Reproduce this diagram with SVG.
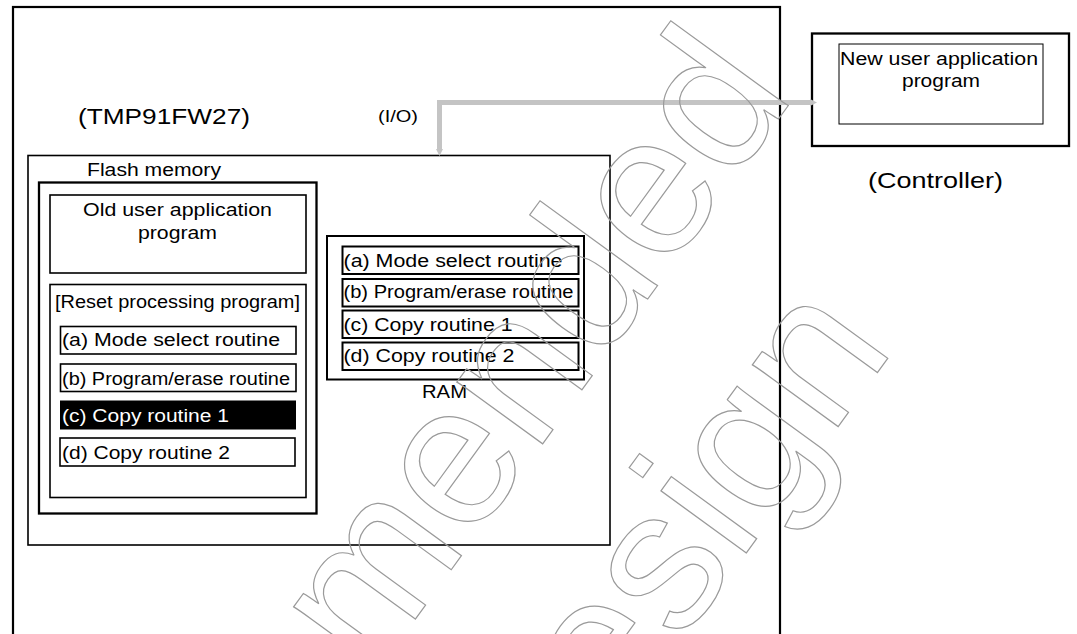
<svg xmlns="http://www.w3.org/2000/svg" width="1077" height="634" viewBox="0 0 1077 634">
<style>
text{font-family:"Liberation Sans",Arial,sans-serif;fill:#000}
.t17{font-size:17.5px}
.t21{font-size:21.5px}
.box{fill:none;stroke:#000}
.wm{font-size:200px;fill:none;stroke:#9a9a9a;stroke-width:1.2}
.conn{fill:none;stroke:#c4c4c4;stroke-width:5}
</style>
<defs>
<marker id="ah" markerUnits="userSpaceOnUse" markerWidth="8" markerHeight="8" refX="0" refY="4" orient="auto-start-reverse">
<path d="M0,0.5 L7,4 L0,7.5 Z" fill="#c4c4c4"/>
</marker>
</defs>
<rect width="1077" height="634" fill="#fff"/>

<g id="mcu">
<rect class="box" x="13" y="7" width="767" height="640" stroke-width="2.2"/>
<text class="t21" x="78" y="124" textLength="172" lengthAdjust="spacingAndGlyphs">(TMP91FW27)</text>
</g>

<g id="chip">
<rect class="box" x="28" y="155.5" width="582" height="389.5" stroke-width="1.6"/>
</g>

<g id="flash">
<rect class="box" x="39" y="182.5" width="277.5" height="331" stroke-width="2.3"/>
<text class="t17" x="87" y="176" textLength="134" lengthAdjust="spacingAndGlyphs">Flash memory</text>
</g>

<g id="old-app">
<rect class="box" x="50" y="195" width="256" height="78" stroke-width="1.6"/>
<text class="t17" x="83" y="216" textLength="189" lengthAdjust="spacingAndGlyphs">Old user application</text>
<text class="t17" x="138" y="238.5" textLength="79" lengthAdjust="spacingAndGlyphs">program</text>
</g>

<g id="reset">
<rect class="box" x="50" y="284.5" width="256" height="213" stroke-width="1.6"/>
<text class="t17" x="55" y="308.3" textLength="245" lengthAdjust="spacingAndGlyphs">[Reset processing program]</text>
</g>

<g id="flash-a">
<rect class="box" x="60.5" y="326.5" width="235.5" height="27.5" stroke-width="1.6"/>
<text class="t17" x="62" y="346" textLength="218" lengthAdjust="spacingAndGlyphs">(a) Mode select routine</text>
</g>
<g id="flash-b">
<rect class="box" x="60.5" y="364" width="235.5" height="27.5" stroke-width="1.6"/>
<text class="t17" x="62" y="385" textLength="228" lengthAdjust="spacingAndGlyphs">(b) Program/erase routine</text>
</g>
<g id="flash-c">
<rect x="60" y="400.5" width="236" height="29" fill="#000"/>
<text class="t17" x="62" y="422" textLength="167" lengthAdjust="spacingAndGlyphs" style="fill:#fff">(c) Copy routine 1</text>
</g>
<g id="flash-d">
<rect class="box" x="60" y="438" width="235" height="28" stroke-width="1.6"/>
<text class="t17" x="62" y="459" textLength="168" lengthAdjust="spacingAndGlyphs">(d) Copy routine 2</text>
</g>

<g id="ram">
<rect class="box" x="327" y="236" width="257" height="143.5" stroke-width="2"/>
<text class="t17" x="422" y="398.3" textLength="45" lengthAdjust="spacingAndGlyphs">RAM</text>
</g>
<g id="ram-a">
<rect class="box" x="342.5" y="246.5" width="236" height="27.5" stroke-width="2"/>
<text class="t17" x="343.5" y="266.7" textLength="219" lengthAdjust="spacingAndGlyphs">(a) Mode select routine</text>
</g>
<g id="ram-b">
<rect class="box" x="342.5" y="279" width="236" height="27.5" stroke-width="2"/>
<text class="t17" x="343.5" y="298.3" textLength="230" lengthAdjust="spacingAndGlyphs">(b) Program/erase routine</text>
</g>
<g id="ram-c">
<rect class="box" x="342.5" y="310.5" width="236" height="27.5" stroke-width="2"/>
<text class="t17" x="343.5" y="330.5" textLength="169" lengthAdjust="spacingAndGlyphs">(c) Copy routine 1</text>
</g>
<g id="ram-d">
<rect class="box" x="342.5" y="342.5" width="236" height="27.5" stroke-width="2"/>
<text class="t17" x="343.5" y="362" textLength="171" lengthAdjust="spacingAndGlyphs">(d) Copy routine 2</text>
</g>

<g id="controller">
<rect class="box" x="812" y="33.5" width="257" height="112.5" stroke-width="2.3"/>
<text class="t21" x="868" y="188" textLength="135" lengthAdjust="spacingAndGlyphs">(Controller)</text>
</g>
<g id="new-app">
<rect class="box" x="839" y="44" width="204" height="80" stroke-width="1"/>
<text class="t17" x="840" y="65" textLength="198" lengthAdjust="spacingAndGlyphs">New user application</text>
<text class="t17" x="902" y="87" textLength="78" lengthAdjust="spacingAndGlyphs">program</text>
</g>

<g id="connectors">
<path class="conn" d="M439.5,149 L439.5,102.5 L810,102.5" marker-start="url(#ah)" marker-end="url(#ah)"/>
<text x="378" y="122" style="font-size:16px" textLength="40" lengthAdjust="spacingAndGlyphs">(I/O)</text>
</g>

<g id="watermark" transform="translate(796,95) rotate(-54)">
<text class="wm" x="0" y="0" text-anchor="end">Not Recommended</text>
<text class="wm" x="-146" y="229" text-anchor="end">for New Design</text>
</g>
</svg>
